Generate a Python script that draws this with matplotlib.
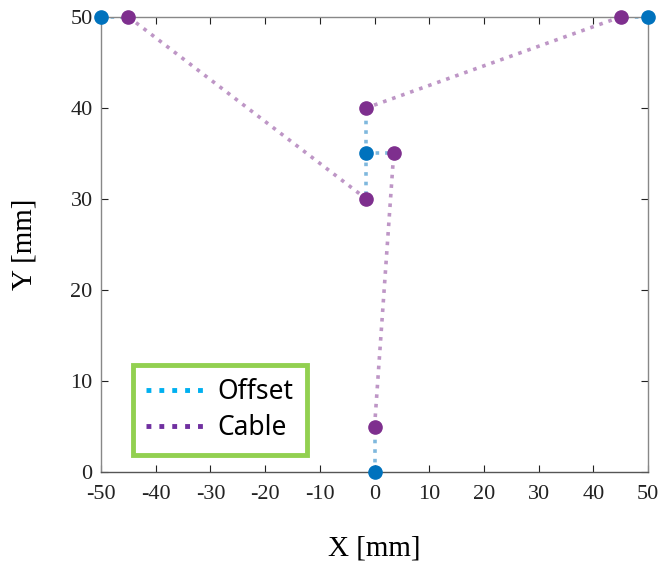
import numpy as np
import matplotlib.pyplot as plt
from matplotlib.lines import Line2D

# offset points (blue) and cable attachment points (purple)
offset_x = [-50, 50, -1.5, 0]
offset_y = [50, 50, 35, 0]
cable_x = [-45, 45, -1.5, 3.5, -1.5, 0]
cable_y = [50, 50, 40, 35, 30, 5]

# segments as index pairs (offset idx, cable idx)
offset_links = [(0, 0), (1, 1), (2, 2), (2, 3), (2, 4), (3, 5)]
cable_links = [(0, 4), (1, 2), (5, 3)]

azul = '#0072BD'
morado = '#7E2F8E'

plt.rcParams['font.family'] = ['Liberation Serif']
plt.rcParams['axes.unicode_minus'] = False
fig = plt.figure(figsize=(6.62, 5.62), dpi=100)
ax = fig.add_axes([0.1526, 0.160, 0.8264, 0.810])

for i, j in offset_links:
    ax.plot([offset_x[i], cable_x[j]], [offset_y[i], cable_y[j]], ':',
            color=azul, alpha=0.5, linewidth=2.6, zorder=2)
for i, j in cable_links:
    ax.plot([cable_x[i], cable_x[j]], [cable_y[i], cable_y[j]], ':',
            color=morado, alpha=0.5, linewidth=2.6, zorder=2)

ax.plot(offset_x, offset_y, 'o', color=azul, markersize=9.5, zorder=3, clip_on=False)
ax.plot(cable_x, cable_y, 'o', color=morado, markersize=9.5, zorder=3, clip_on=False)

ax.set_xlim(-50, 50)
ax.set_ylim(0, 50)
ax.set_xticks(np.arange(-50, 51, 10))
ax.set_yticks(np.arange(0, 51, 10))
ax.tick_params(direction='in', top=True, right=True, labelsize=16, length=5,
               colors='#222222', width=0.8)
ax.tick_params(axis='x', pad=9)
ax.tick_params(axis='y', pad=6)
for s in ax.spines.values():
    s.set_color('#888888')
    s.set_linewidth(1.0)
ax.spines['bottom'].set_color('#555555')

ax.set_xlabel('X [mm]', fontsize=21, labelpad=23)
ax.set_ylabel('Y [mm]', fontsize=21, labelpad=24)

handles = [Line2D([], [], linestyle=':', color='#00B0F0', linewidth=3.5),
           Line2D([], [], linestyle=':', color='#7030A0', linewidth=3.5)]
leg = ax.legend(handles, ['Offset', 'Cable'], loc='lower left',
                bbox_to_anchor=(0.0585, 0.037), borderaxespad=0, fancybox=False, framealpha=1,
                prop={'family': 'Noto Sans', 'size': 19}, handlelength=2.2,
                borderpad=0.5, labelspacing=0.3, handletextpad=0.5)
leg.get_frame().set_edgecolor('#92D050')
leg.get_frame().set_linewidth(3.5)

fig.savefig('out.png', dpi=100)
